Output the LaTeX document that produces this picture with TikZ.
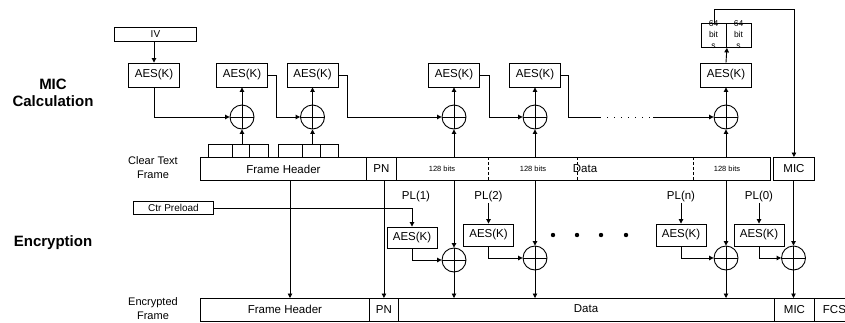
\documentclass[tikz,border=0pt]{standalone}
\usepackage{fontspec}
\setmainfont{Liberation Sans}
\usetikzlibrary{arrows.meta}
\newcommand\fsz[1]{\fontsize{#1}{#1}\selectfont}
\begin{document}
\begin{tikzpicture}[x=1pt,y=-1pt,
  every path/.style={line width=0.9pt},
  box/.style={draw,line width=0.9pt,inner sep=0pt,font=\fsz{11.5}},
  aes/.style={box,minimum width=51pt,minimum height=24pt},
  eaes/.style={box,minimum width=50pt,minimum height=22pt},
  fr/.style={box,minimum height=23pt,anchor=north west},
  xor/.style={circle,draw,line width=0.9pt,minimum size=24pt,inner sep=0pt,
    path picture={\draw[line width=0.9pt] (path picture bounding box.north) -- (path picture bounding box.south)
      (path picture bounding box.west) -- (path picture bounding box.east);}},
  arr/.style={-{Triangle[length=4.5pt,width=4.5pt]}},
  lbl/.style={font=\fsz{11.5},inner sep=0pt},
  small/.style={font=\fsz{7.5},inner sep=0pt},
  side/.style={font=\fontsize{11}{14}\selectfont,align=center,inner sep=0pt},
  title/.style={font=\fontsize{15}{17}\selectfont\bfseries,align=center,inner sep=0pt},
  divd/.style={dash pattern=on 3pt off 2pt,line width=0.8pt},
  dotl/.style={dash pattern=on 1pt off 6pt,line width=0.9pt}]
\useasboundingbox (0,0) rectangle (845,322);

% side titles
\node[title] (tmic) at (53,93) {MIC\\Calculation};
\node[title] (tenc) at (53,243) {Encryption};
\node[side] (tclear) at (153,168) {Clear Text\\Frame};
\node[side] (tencf) at (153,309) {Encrypted\\Frame};

% MIC calculation row
\node[box,minimum width=82pt,minimum height=14pt,anchor=north west,font=\fsz{10}] (iv) at (114,27) {IV};
\node[aes] (aes1) at (154,75) {AES(K)};
\node[aes] (aes2) at (242,75) {AES(K)};
\node[aes] (aes3) at (312.5,75) {AES(K)};
\node[aes] (aes4) at (454,75) {AES(K)};
\node[aes] (aes5) at (535,75) {AES(K)};
\node[aes] (aes6) at (726,75) {AES(K)};
\node[xor] (x1) at (242,117) {};
\node[xor] (x2) at (312.5,117) {};
\node[xor] (x3) at (454,117) {};
\node[xor] (x4) at (535,117) {};
\node[xor] (x6) at (726,117) {};

% 64 bit boxes
\node[box,minimum width=25pt,minimum height=24pt,anchor=north west] (b1) at (701,23) {};
\node[box,minimum width=25pt,minimum height=24pt,anchor=north west] (b2) at (726,23) {};
\node[inner sep=0pt,align=center,font=\fontsize{8.5}{11}\selectfont] (t1) at (713.5,34.5) {64\\bit\\s};
\node[inner sep=0pt,align=center,font=\fontsize{8.5}{11}\selectfont] (t2) at (738.5,34.5) {64\\bit\\s};

% small header blocks
\node[box,minimum width=60pt,minimum height=13pt,anchor=north west] (g1) at (208,144) {};
\node[box,minimum width=60pt,minimum height=13pt,anchor=north west] (g2) at (278,144) {};
\draw (232,144) -- (232,157) (249,144) -- (249,157);
\draw (302,144) -- (302,157) (320,144) -- (320,157);

% clear text frame
\node[fr,minimum width=166pt] (cfh) at (200,157) {Frame Header};
\node[fr,minimum width=30pt] (cpn) at (366,157) {PN};
\node[fr,minimum width=374pt] (cdata) at (396,157) {};
\node[fr,minimum width=41pt] (cmic) at (773,157) {MIC};
\draw[divd] (488,157) -- (488,180) (577,157) -- (577,180) (693,157) -- (693,180);
\node[small] (c128a) at (442,168.5) {128 bits};
\node[small] (c128b) at (533,168.5) {128 bits};
\node[lbl] (cdt) at (585,168.5) {Data};
\node[small] (c128c) at (727,168.5) {128 bits};

% encryption
\node[box,minimum width=80pt,minimum height=13pt,anchor=north west,font=\fsz{10}] (ctr) at (133,201) {Ctr Preload};
\node[eaes,minimum height=21pt] (ea1) at (412,237.5) {AES(K)};
\node[eaes] (ea2) at (488.5,235) {AES(K)};
\node[eaes] (ean) at (681,235) {AES(K)};
\node[eaes] (ea0) at (759,235) {AES(K)};
\node[lbl] (pl1) at (416,197) {PL(1)};
\node[lbl] (pl2) at (488.5,197) {PL(2)};
\node[lbl] (pln) at (681,197) {PL(n)};
\node[lbl] (pl0) at (759,197) {PL(0)};
\node[xor] (ex1) at (454,260) {};
\node[xor] (ex2) at (535,258) {};
\node[xor] (exn) at (726,258) {};
\node[xor] (ex0) at (793.5,258) {};
\foreach \px in {553,577,601,626} \fill (\px,235) circle (2.2pt);

% encrypted frame
\node[fr,minimum width=169pt,minimum height=22.5pt] (efh) at (200,298) {Frame Header};
\node[fr,minimum width=29pt,minimum height=22.5pt] (epn) at (369,298) {PN};
\node[fr,minimum width=376pt,minimum height=22.5pt] (edata) at (398,298) {};
\node[lbl] (edt) at (586,309) {Data};
\node[fr,minimum width=40pt,minimum height=22.5pt] (emic) at (774,298) {MIC};
\node[fr,minimum width=40pt,minimum height=22.5pt] (efcs) at (814,298) {FCS};

% MIC connectors
\draw[arr] (iv.south -| aes1) -- (aes1.north);
\draw[arr] (aes1.south) |- (x1.west);
\draw[arr] (x1.north) -- (aes2.south);
\draw[arr] (aes2.east) -- ++(8,0) |- (x2.west);
\draw[arr] (x2.north) -- (aes3.south);
\draw[arr] (aes3.east) -- ++(9,0) |- (x3.west);
\draw[arr] (x3.north) -- (aes4.south);
\draw[arr] (aes4.east) -- ++(9,0) |- (x4.west);
\draw[arr] (x4.north) -- (aes5.south);
\coordinate (d1) at (600,117);
\coordinate (d2) at (653,117);
\draw (aes5.east) -- ++(7,0) |- (d1);
\draw[dotl] (d1) -- (d2);
\draw[arr] (d2) -- (x6.west);
\draw[arr] (x6.north) -- (aes6.south);
\draw[arr] (aes6.north) -- (b1.south east);
\draw[arr] (b1.north) -- ++(0,-14) -| (cmic.north);
\draw[arr] (g1.north -| x1) -- (x1.south);
\draw[arr] (g2.north -| x2) -- (x2.south);
\draw[arr] (cdata.north -| x3) -- (x3.south);
\draw[arr] (cdata.north -| x4) -- (x4.south);
\draw[arr] (cdata.north -| x6) -- (x6.south);

% encryption connectors
\coordinate (fhx) at (290,0);
\draw[arr] (cfh.south -| fhx) -- (efh.north -| fhx);
\draw[arr] (cpn.south -| epn) -- (epn.north);
\draw[arr] (ctr.east) -| (ea1.north);
\draw[arr] (pl2.south) -- (ea2.north);
\draw[arr] (pln.south) -- (ean.north);
\draw[arr] (pl0.south) -- (ea0.north);
\draw[arr] (ea1.south) |- (ex1.west);
\draw[arr] (ea2.south) |- (ex2.west);
\draw[arr] (ean.south) |- (exn.west);
\draw[arr] (ea0.south) |- (ex0.west);
\draw[arr] (cdata.south -| ex1) -- (ex1.north);
\draw[arr] (cdata.south -| ex2) -- (ex2.north);
\draw[arr] (cdata.south -| exn) -- (exn.north);
\draw[arr] (cmic.south -| ex0) -- (ex0.north);
\draw[arr] (ex1.south) -- (edata.north -| ex1);
\draw[arr] (ex2.south) -- (edata.north -| ex2);
\draw[arr] (exn.south) -- (edata.north -| exn);
\draw[arr] (ex0.south) -- (emic.north -| ex0);
\end{tikzpicture}
\end{document}
